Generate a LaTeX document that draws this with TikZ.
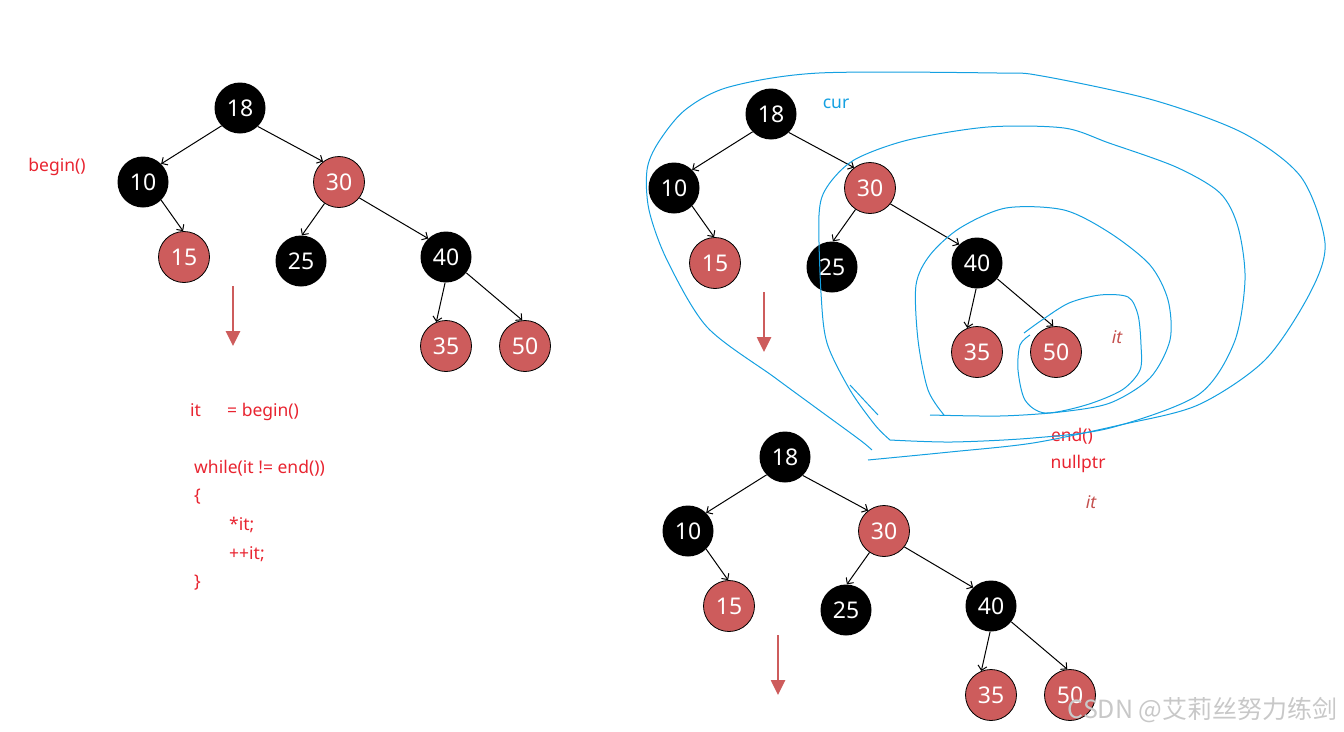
\documentclass[tikz,border=0pt]{standalone}
\usepackage{fontspec}
\setmainfont{Noto Sans}
\newfontfamily\cjkfont{Noto Sans CJK SC}
\usetikzlibrary{arrows.meta}
\definecolor{rbred}{RGB}{205,92,92}
\definecolor{txtred}{RGB}{232,36,48}
\definecolor{itred}{RGB}{196,80,78}
\definecolor{penblue}{RGB}{20,160,225}
\definecolor{wmgray}{RGB}{200,200,200}
\tikzset{
  rbnode/.style={circle,minimum size=51pt,inner sep=0pt,text=white,font=\fontsize{23}{23}\selectfont},
  blknode/.style={rbnode,fill=black},
  rednode/.style={rbnode,fill=rbred,draw=black,line width=0.8pt},
  link/.style={-{Straight Barb[length=4.5pt,width=9pt]},line width=1pt},
  godown/.style={-{Triangle[width=14pt,length=15pt]},line width=2.6pt,draw=rbred},
  lbl/.style={font=\fontsize{17.5}{17.5}\selectfont},
  itlbl/.style={font=\fontsize{17.5}{17.5}\selectfont\itshape,text=itred},
  code/.style={lbl,text=txtred,anchor=west,inner sep=0pt},
  pen/.style={draw=penblue,line width=1pt},
}
\begin{document}
\begin{tikzpicture}[x=1pt,y=-1pt]
	\useasboundingbox (0,0) rectangle (1344,731);
	
	% the same tree three times
	\foreach \dx/\dy/\t in {0/0/L, 531/6/R, 545/349/S}
	{
		\begin{scope}[shift={(\dx,\dy)}]
			\node[blknode] (\t18) at (240,108) {18};
			\node[blknode] (\t10) at (143,182) {10};
			\node[rednode] (\t30) at (339,182) {30};
			\node[rednode] (\t15) at (184,257) {15};
			\node[blknode] (\t25) at (301,261) {25};
			\node[blknode] (\t40) at (446,257) {40};
			\node[rednode] (\t35) at (446,346) {35};
			\node[rednode] (\t50) at (525,346) {50};
			\foreach \a/\p/\b/\q in {18/224/10/45, 18/314/30/128, 10/315/15/92, 30/236/25/88, 30/322/40/134, 40/268/35/112, 40/322/50/96}
				\draw[link] (\t\a.\p) -- (\t\b.\q);
			\coordinate (\t top) at (233,286);
			\coordinate (\t tip) at (233,346);
			\draw[godown] (\t top) -- (\t tip);
		\end{scope}
	}
	
	% labels
	\node[lbl,text=txtred] (beg) at (57,167) {begin()};
	\node[code] (itvar) at (190,410) {it};
	\node[code] (init) at (227,412) {= begin()};
	\node[code] (loop) at (194,468) {while(it != end())};
	\node[code] (open) at (194,497) {\{};
	\node[code] (deref) at (229,525) {*it;};
	\node[code] (incr) at (229,554) {++it;};
	\node[code] (close) at (194,583) {\}};
	
	\node[lbl,text=penblue] (cur) at (836,104) {cur};
	\node[itlbl] (it1) at (1117,337) {it};
	\node[lbl,text=txtred] (endf) at (1072,436) {end()};
	\node[lbl,text=txtred] (null) at (1078,464) {nullptr};
	\node[itlbl] (it2) at (1091,502) {it};
	
	% hand drawn spiral
	\draw[pen] plot [smooth] coordinates {(1024,333) (1042,320) (1069,303) (1100,295) (1128,297) (1138,315) (1141,345) (1140,370) (1122,390) (1086,405) (1045,413) (1025,400) (1018,370) (1020,345) (1030,335)};
	\draw[pen] plot [smooth] coordinates {(930,415) (1000,416) (1060,412) (1110,403) (1150,378) (1170,340) (1168,300) (1150,265) (1110,233) (1064,210) (1006,208) (960,228) (930,255) (916,285) (918,340) (928,390) (944,415)};
	\draw[pen] plot [smooth] coordinates {(890,440) (952,442) (1033,438) (1110,428) (1198,395) (1234,343) (1245,280) (1238,227) (1220,193) (1176,167) (1109,143) (1064,128) (988,127) (908,140) (854,160) (827,187) (819,215) (821,293) (827,343) (850,390) (875,425) (890,440)};
	\draw[pen] (850,385) -- (878,415);
	\draw[pen] plot [smooth] coordinates {(868,460) (950,452) (1033,443) (1120,425) (1198,405) (1265,360) (1310,293) (1325,243) (1301,177) (1243,133) (1153,100) (1042,76) (997,73) (819,73) (729,87) (685,110) (658,143) (647,170) (649,210) (667,260) (707,327) (774,377) (819,410) (860,440) (872,450)};
	
	\node[text=wmgray,font=\cjkfont\fontsize{25}{25}\selectfont,anchor=east] (mark) at (1341,710) {CSDN @艾莉丝努力练剑};
\end{tikzpicture}
\end{document}
